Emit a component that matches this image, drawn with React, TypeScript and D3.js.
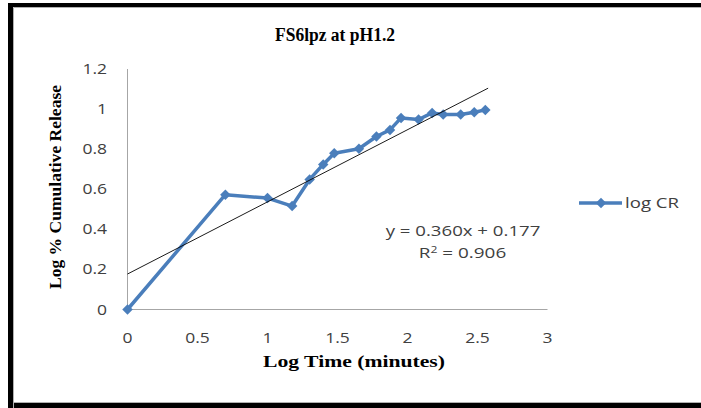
import React from "react";
import * as d3 from "d3";

const title = "FS6lpz at pH1.2";
const xTitle = "Log Time (minutes)";
const yTitle = "Log % Cumulative Release";
const seriesName = "log CR";
const logTime = [0, 0.699, 1.0, 1.176, 1.301, 1.398, 1.477, 1.653, 1.778, 1.875, 1.954, 2.079, 2.176, 2.255, 2.38, 2.477, 2.556];
const logCR = [0, 0.573, 0.556, 0.516, 0.649, 0.724, 0.78, 0.802, 0.863, 0.896, 0.956, 0.948, 0.981, 0.973, 0.973, 0.984, 0.996];
const xTicks = [0, 0.5, 1, 1.5, 2, 2.5, 3];
const yTicks = [0, 0.2, 0.4, 0.6, 0.8, 1, 1.2];
const slope = 0.36;
const intercept = 0.177;
const equation = "y = 0.360x + 0.177";
const r2Value = "0.906";

const W = 701;
const H = 408;
const tickFont = "'Open Sans', 'Noto Sans', sans-serif";
const serif = "'Liberation Serif', 'DejaVu Serif', serif";
const blue = "#4a7ebb";
const grey = "#404040";

function SText(props: {
  x: number;
  y: number;
  sx: number;
  anchor?: string;
  children: React.ReactNode;
}) {
  return (
    <text
      transform={`translate(${props.x},${props.y}) scale(${props.sx},1)`}
      textAnchor={props.anchor || "start"}
      fontFamily={tickFont}
      fontSize={14}
      fill={grey}
    >
      {props.children}
    </text>
  );
}

export default function App() {
  React.useEffect(() => {
    document.body.style.margin = "0";
  }, []);
  const x = d3.scaleLinear().domain([0, 3]).range([127.5, 547.5]);
  const y = d3.scaleLinear().domain([0, 1.2]).range([309.5, 69]);
  const line = d3
    .line<number>()
    .x((_, i) => x(logTime[i]))
    .y((d) => y(d));
  const diamond = d3.symbol().type(d3.symbolDiamond2).size(70)();
  const xMax = d3.max(logTime) as number;
  const fmt = (v: number) => String(v);

  return (
    <div style={{ position: "absolute", left: 0, top: 0, width: W, height: H }}>
      <svg width={W} height={H} style={{ display: "block" }}>
        <rect x={0} y={0} width={W} height={H} fill="#fff" />
        <rect x={8} y={3} width={W} height={H} fill="#000" />
        <rect x={13} y={7} width={W} height={396} fill="#fff" />
        <path d={`M13.5,${H}V7.5H${W}`} stroke="#b0b0b0" fill="none" />
        <path d={`M13.5,402.5H${W}`} stroke="#b0b0b0" fill="none" />

        <text
          x={335}
          y={41}
          textAnchor="middle"
          fontFamily={serif}
          fontWeight="bold"
          fontSize={18}
          fill="#000"
          textLength={120}
          lengthAdjust="spacingAndGlyphs"
        >
          {title}
        </text>

        {/* axes */}
        <line x1={x(0)} x2={x(0)} y1={y(1.2)} y2={y(0)} stroke="#a6a6a6" strokeWidth={1} />
        <line x1={x(0)} x2={x(3)} y1={y(0)} y2={y(0)} stroke="#a6a6a6" strokeWidth={1} />

        {yTicks.map((t) => (
          <SText key={"y" + t} x={107} y={y(t) + 5} sx={1.25} anchor="end">
            {fmt(t)}
          </SText>
        ))}
        {xTicks.map((t) => (
          <SText key={"x" + t} x={x(t)} y={343} sx={1.25} anchor="middle">
            {fmt(t)}
          </SText>
        ))}

        <text
          x={354}
          y={367}
          textAnchor="middle"
          fontFamily={serif}
          fontWeight="bold"
          fontSize={17}
          fill="#000"
          textLength={182}
          lengthAdjust="spacingAndGlyphs"
        >
          {xTitle}
        </text>
        <text
          transform={`translate(61,187) rotate(-90)`}
          textAnchor="middle"
          fontFamily={serif}
          fontWeight="bold"
          fontSize={17}
          fill="#000"
          textLength={204}
          lengthAdjust="spacingAndGlyphs"
        >
          {yTitle}
        </text>

        {/* series */}
        <path d={line(logCR) || ""} fill="none" stroke={blue} strokeWidth={3.5} strokeLinejoin="round" />
        {logCR.map((v, i) => (
          <path key={"m" + i} d={diamond || ""} transform={`translate(${x(logTime[i])},${y(v)})`} fill={blue} />
        ))}

        {/* trend line */}
        <line
          x1={x(0)}
          y1={y(intercept)}
          x2={x(xMax + 0.02)}
          y2={y(intercept + slope * (xMax + 0.02))}
          stroke="#000"
          strokeWidth={0.9}
        />
        <SText x={463} y={236} sx={1.33} anchor="middle">
          {equation}
        </SText>
        <SText x={462.5} y={258} sx={1.35} anchor="middle">
          R<tspan dy={-5} fontSize={9}>2</tspan>
          <tspan dy={5}>{" = " + r2Value}</tspan>
        </SText>

        {/* legend */}
        <line x1={579} x2={622} y1={203} y2={203} stroke={blue} strokeWidth={3.5} />
        <path d={diamond || ""} transform="translate(601,203)" fill={blue} />
        <SText x={625} y={208} sx={1.33}>
          {seriesName}
        </SText>
      </svg>
    </div>
  );
}
